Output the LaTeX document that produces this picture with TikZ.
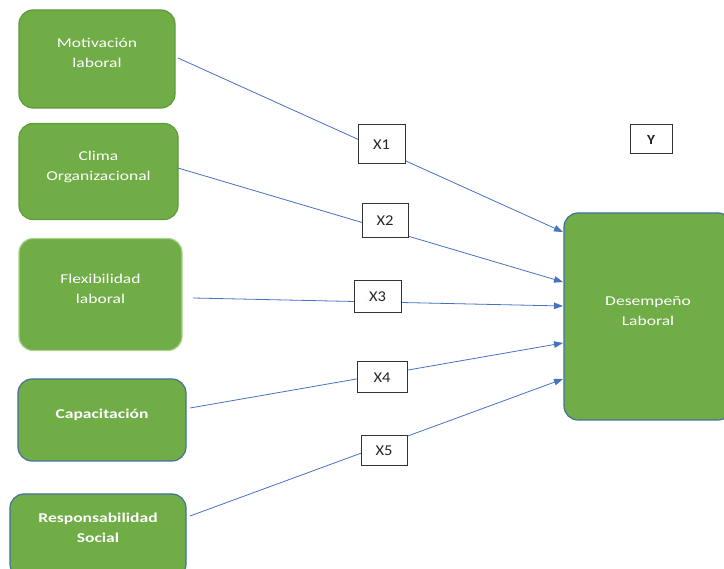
\documentclass[tikz,border=0pt]{standalone}
\usepackage{fontspec}
\setmainfont{Carlito}
\newfontfamily\boxfont[FakeStretch=1.3]{Carlito}
\newfontfamily\tagfont[FakeStretch=1.1]{Carlito}
\usetikzlibrary{arrows.meta,calc}
\definecolor{offgreen}{HTML}{70AD47}
\definecolor{greenedge}{HTML}{5F9A3C}
\definecolor{lightedge}{HTML}{A9D18E}
\definecolor{blueedge}{HTML}{41719C}
\definecolor{linkblue}{HTML}{4472C4}
\tikzset{
  varbox/.style={rectangle,rounded corners=14pt,fill=offgreen,line width=1.2pt,inner sep=0pt},
  boxtext/.style={text=white,align=center,font=\boxfont\fontsize{13.5}{20}\selectfont,inner sep=0pt},
  tagbox/.style={rectangle,draw=black!80,line width=1pt,fill=white,inner sep=0pt,font=\tagfont\fontsize{15}{16}\selectfont,text=black!85},
  link/.style={draw=linkblue,line width=0.8pt,-{Triangle[length=9pt,width=6.5pt]}},
}
\begin{document}
\begin{tikzpicture}[x=1pt,y=-1pt]
\useasboundingbox (0,0) rectangle (724,569);
% left boxes
\node[varbox,draw=greenedge,minimum width=156pt,minimum height=98pt] (b1) at (97,59) {};
\node[boxtext] (l1) at (97,53) {Motivación\\laboral};
\node[varbox,draw=greenedge,minimum width=159pt,minimum height=96pt] (b2) at (98.5,171.5) {};
\node[boxtext] (l2) at (98.5,167) {Clima\\Organizacional};
\node[varbox,draw=lightedge,minimum width=163pt,minimum height=112pt] (b3) at (100.5,294.5) {};
\node[boxtext] (l3) at (100.5,289) {Flexibilidad\\laboral};
\node[varbox,draw=blueedge,minimum width=168pt,minimum height=82pt] (b4) at (102,420) {};
\node[boxtext,font=\boxfont\fontsize{13.5}{20}\selectfont\bfseries] (l4) at (102,415) {Capacitación};
\node[varbox,draw=blueedge,minimum width=176pt,minimum height=84pt] (b5) at (98,536) {};
\node[boxtext,font=\boxfont\fontsize{13.5}{20}\selectfont\bfseries] (l5) at (98,528) {Responsabilidad\\Social};
% right box
\node[varbox,draw=blueedge,minimum width=168pt,minimum height=207pt] (d) at (648,316.5) {};
\node[boxtext] (ld) at (648,311) {Desempeño\\Laboral};
\node[tagbox,minimum width=42pt,minimum height=29pt,font=\tagfont\fontsize{14}{16}\selectfont\bfseries] (y) at (651,139.5) {Y};
% connectors
\coordinate (s1) at (178,58);
\coordinate (s2) at (178,168);
\coordinate (s3) at (193,298);
\coordinate (s4) at (190,408);
\coordinate (s5) at (190,516);
\coordinate (t1) at (563,232);
\coordinate (t2) at (563,282);
\coordinate (t3) at (563,306);
\coordinate (t4) at (563,343);
\coordinate (t5) at (563,379);
\foreach \i in {1,...,5} {\draw[link] (s\i) -- (t\i);}
% tags
\node[tagbox,minimum width=47pt,minimum height=39pt] (x1) at (381.5,144.5) {X1};
\node[tagbox,minimum width=46pt,minimum height=34pt] (x2) at (385,221) {X2};
\node[tagbox,minimum width=47pt,minimum height=32pt] (x3) at (377.5,297) {X3};
\node[tagbox,minimum width=50pt,minimum height=31pt] (x4) at (382,377.5) {X4};
\node[tagbox,minimum width=46pt,minimum height=30pt] (x5) at (384,451) {X5};
\end{tikzpicture}
\end{document}
